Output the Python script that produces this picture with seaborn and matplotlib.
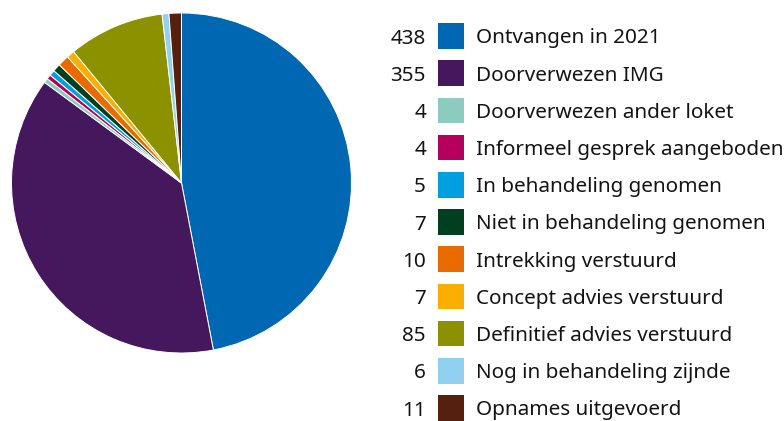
import matplotlib
matplotlib.use("Agg")
import matplotlib.pyplot as plt
import seaborn as sns

labels = ["Ontvangen in 2021", "Doorverwezen IMG", "Doorverwezen ander loket",
          "Informeel gesprek aangeboden", "In behandeling genomen",
          "Niet in behandeling genomen", "Intrekking verstuurd",
          "Concept advies verstuurd", "Definitief advies verstuurd",
          "Nog in behandeling zijnde", "Opnames uitgevoerd"]
values = [438, 355, 4, 4, 5, 7, 10, 7, 85, 6, 11]
colors = ["#0068b2", "#45175c", "#8ccbc0", "#b5005e", "#00a0e0", "#003f1f",
          "#ea6a00", "#f9ae00", "#8c9100", "#92d0f0", "#55200d"]

sns.set_theme(style="white")
plt.rcParams['font.family'] = ['Noto Sans', 'DejaVu Sans']

W, H = 784, 421
fig = plt.figure(figsize=(W / 100, H / 100), dpi=100)

cx, cy, r = 181.5, 183, 170
ax = fig.add_axes([(cx - r) / W, (H - cy - r) / H, 2 * r / W, 2 * r / H])
ax.pie(values, colors=colors, startangle=90, counterclock=False, radius=1,
       wedgeprops=dict(edgecolor="white", linewidth=0.7))
ax.set_xlim(-1.0, 1.0)
ax.set_ylim(-1.0, 1.0)
ax.set_aspect("equal")
ax.axis("off")

lx = fig.add_axes([0, 0, 1, 1])
lx.set_xlim(0, W)
lx.set_ylim(H, 0)
lx.axis("off")
lx.patch.set_alpha(0)
y0, dy = 36, 37.2
ys = [y0 + i * dy for i in range(len(labels))]
lx.scatter([451] * len(labels), ys, marker="s", s=(25.5 * 0.72) ** 2, c=colors, linewidths=0)
for y, v, lab in zip(ys, values, labels):
    lx.text(426, y, str(v), ha="right", va="center_baseline", fontsize=14.9, color="#141414")
    lx.text(476, y, lab, ha="left", va="center_baseline", fontsize=14.9, color="#141414")

fig.savefig("out.png", dpi=100)
